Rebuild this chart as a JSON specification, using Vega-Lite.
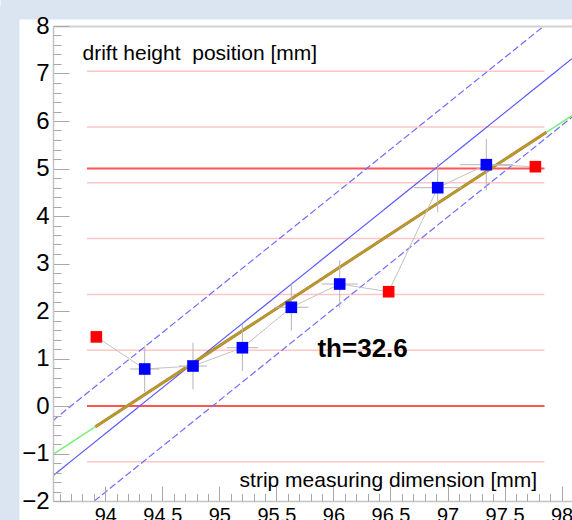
{
  "$schema": "https://vega.github.io/schema/vega-lite/v6.json",
  "width": 519,
  "height": 475,
  "autosize": {"type": "none"},
  "padding": {"left": 53, "top": 26, "right": 0, "bottom": 19},
  "background": "white",
  "config": {"view": {"stroke": null}, "font": "Liberation Sans", "axis": {"grid": false}},
  "datasets": {
    "hlines": [
      {"y": -1.175, "x": 93.84, "xend": 97.85, "kind": "strip"},
      {"y": 1.175, "x": 93.84, "xend": 97.85, "kind": "strip"},
      {"y": 2.35, "x": 93.84, "xend": 97.85, "kind": "strip"},
      {"y": 3.525, "x": 93.84, "xend": 97.85, "kind": "strip"},
      {"y": 4.7, "x": 93.84, "xend": 97.85, "kind": "strip"},
      {"y": 5.875, "x": 93.84, "xend": 97.85, "kind": "strip"},
      {"y": 7.05, "x": 93.84, "xend": 97.85, "kind": "strip"},
      {"y": 0, "x": 93.84, "xend": 97.85, "kind": "edge"},
      {"y": 5, "x": 93.84, "xend": 97.85, "kind": "edge"}
    ],
    "bands": [
      {"line": "solid", "x": 93.542, "y": -1.467},
      {"line": "solid", "x": 98.091, "y": 7.313},
      {"line": "up", "x": 93.542, "y": -0.305},
      {"line": "up", "x": 97.845, "y": 8},
      {"line": "lo", "x": 93.904, "y": -2},
      {"line": "lo", "x": 98.091, "y": 6.081}
    ],
    "green": [
      {"x": 93.542, "y": -1.019},
      {"x": 98.091, "y": 6.114}
    ],
    "fit": [
      {"x": 93.914, "y": -0.436},
      {"x": 97.866, "y": 5.761}
    ],
    "pts": [
      {"x": 93.922, "y": 1.455, "kind": "red"},
      {"x": 94.346, "y": 0.779, "kind": "blue", "xlo": 94.219, "xhi": 94.473, "ylo": 0.289, "yhi": 1.269},
      {"x": 94.769, "y": 0.842, "kind": "blue", "xlo": 94.646, "xhi": 94.892, "ylo": 0.352, "yhi": 1.332},
      {"x": 95.202, "y": 1.227, "kind": "blue", "xlo": 95.066, "xhi": 95.338, "ylo": 0.737, "yhi": 1.717},
      {"x": 95.631, "y": 2.078, "kind": "blue", "xlo": 95.481, "xhi": 95.781, "ylo": 1.588, "yhi": 2.568},
      {"x": 96.055, "y": 2.568, "kind": "blue", "xlo": 95.897, "xhi": 96.213, "ylo": 2.068, "yhi": 3.068},
      {"x": 96.484, "y": 2.406, "kind": "red"},
      {"x": 96.914, "y": 4.596, "kind": "blue", "xlo": 96.704, "xhi": 97.124, "ylo": 4.076, "yhi": 5.116},
      {"x": 97.34, "y": 5.08, "kind": "blue", "xlo": 97.11, "xhi": 97.57, "ylo": 4.54, "yhi": 5.62},
      {"x": 97.77, "y": 5.038, "kind": "red"}
    ],
    "notes": [
      {"x": 95.86, "y": 1.025, "label": "th=32.6"}
    ]
  },
  "resolve": {
    "axis": {"x": "independent", "y": "independent"},
    "scale": {"color": "independent", "strokeWidth": "independent", "strokeDash": "independent"}
  },
  "layer": [
    {
      "data": {"name": "hlines"},
      "mark": {"type": "rule"},
      "encoding": {
        "x": {"field": "x", "type": "quantitative", "scale": {"domain": [93.542, 98.091], "nice": false, "zero": false},
          "axis": {"orient": "bottom", "zindex": 1, "values": [94, 94.5, 95, 95.5, 96, 96.5, 97, 97.5, 98], "format": ".4~g",
            "tickSize": -15, "tickColor": "#a8a8a8", "tickWidth": 1, "domainColor": "#c4c4c4", "domainWidth": 1.5,
            "labelFont": "Liberation Sans", "labelFontSize": 20, "labelColor": "#000000", "labelPadding": 19, "labelFlush": false, "labelOverlap": false,
            "title": "strip measuring dimension [mm]", "titleFont": "Liberation Sans", "titleFontSize": 21, "titleFontWeight": "normal", "titleColor": "#000000",
            "titleAlign": "right", "titleAnchor": "start", "titleX": 483.7, "titleY": -15, "titleBaseline": "alphabetic", "titleLimit": 1000}},
        "x2": {"field": "xend"},
        "y": {"field": "y", "type": "quantitative", "scale": {"domain": [-2, 8], "nice": false, "zero": false},
          "axis": {"orient": "left", "zindex": 1, "values": [-2, -1, 0, 1, 2, 3, 4, 5, 6, 7, 8], "format": "d",
            "tickSize": -16, "tickColor": "#a8a8a8", "tickWidth": 1, "domainColor": "#c4c4c4", "domainWidth": 1.5,
            "labelFont": "Liberation Sans", "labelFontSize": 24, "labelColor": "#000000", "labelPadding": 20, "labelFlush": false, "labelOverlap": false,
            "title": "drift height\u00a0 position [mm]", "titleFont": "Liberation Sans", "titleFontSize": 21, "titleFontWeight": "normal", "titleColor": "#000000",
            "titleAngle": 0, "titleAlign": "left", "titleAnchor": "start", "titleBaseline": "alphabetic", "titleX": 29, "titleY": 33, "titleLimit": 1000}},
        "color": {"field": "kind", "type": "nominal", "scale": {"domain": ["edge", "strip"], "range": ["#ff5555", "#ffc6c6"]}, "legend": null},
        "strokeWidth": {"field": "kind", "type": "nominal", "scale": {"domain": ["edge", "strip"], "range": [2, 1.5]}, "legend": null}
      }
    },
    {
      "data": {"name": "bands"},
      "mark": {"type": "line", "clip": true},
      "encoding": {
        "x": {"field": "x", "type": "quantitative", "scale": {"domain": [93.542, 98.091], "nice": false, "zero": false},
          "axis": {"orient": "bottom", "zindex": 1, "values": [93.6, 93.7, 93.8, 93.9, 94.1, 94.2, 94.3, 94.4, 94.6, 94.7, 94.8, 94.9, 95.1, 95.2, 95.3, 95.4, 95.6, 95.7, 95.8, 95.9, 96.1, 96.2, 96.3, 96.4, 96.6, 96.7, 96.8, 96.9, 97.1, 97.2, 97.3, 97.4, 97.6, 97.7, 97.8, 97.9],
            "tickSize": -7.5, "tickColor": "#a8a8a8", "tickWidth": 1, "domain": false, "labels": false, "title": null}},
        "y": {"field": "y", "type": "quantitative", "scale": {"domain": [-2, 8], "nice": false, "zero": false},
          "axis": {"orient": "left", "zindex": 1, "values": [-1.8, -1.6, -1.4, -1.2, -0.8, -0.6, -0.4, -0.2, 0.2, 0.4, 0.6, 0.8, 1.2, 1.4, 1.6, 1.8, 2.2, 2.4, 2.6, 2.8, 3.2, 3.4, 3.6, 3.8, 4.2, 4.4, 4.6, 4.8, 5.2, 5.4, 5.6, 5.8, 6.2, 6.4, 6.6, 6.8, 7.2, 7.4, 7.6, 7.8],
            "tickSize": -8, "tickColor": "#a8a8a8", "tickWidth": 1, "domain": false, "labels": false, "title": null}},
        "detail": {"field": "line", "type": "nominal"},
        "color": {"field": "line", "type": "nominal", "scale": {"domain": ["solid", "up", "lo"], "range": ["#5a5aff", "#6e6eff", "#6e6eff"]}, "legend": null},
        "strokeDash": {"field": "line", "type": "nominal", "scale": {"domain": ["solid", "up", "lo"], "range": [[1, 0], [7, 3], [7, 3]]}, "legend": null},
        "strokeWidth": {"value": 1.2}
      }
    },
    {
      "data": {"name": "green"},
      "mark": {"type": "line", "clip": true, "color": "#77ee77", "strokeWidth": 1.5},
      "encoding": {
        "x": {"field": "x", "type": "quantitative", "scale": {"domain": [93.542, 98.091], "nice": false, "zero": false},
          "axis": {"orient": "top", "zindex": 1, "domainColor": "#d2d2d2", "domainWidth": 2, "ticks": false, "labels": false, "title": null}},
        "y": {"field": "y", "type": "quantitative", "scale": {"domain": [-2, 8], "nice": false, "zero": false},
          "axis": {"orient": "left", "zindex": 0, "offset": 54, "domainColor": "#dbe5f1", "domainWidth": 40, "domainCap": "square", "ticks": false, "labels": false, "title": null}}
      }
    },
    {
      "data": {"name": "fit"},
      "mark": {"type": "line", "clip": true, "color": "#d8644a", "strokeWidth": 3},
      "encoding": {
        "x": {"field": "x", "type": "quantitative", "scale": {"domain": [93.542, 98.091], "nice": false, "zero": false},
          "axis": {"orient": "top", "zindex": 0, "offset": 60, "domainColor": "#dbe5f1", "domainWidth": 106, "domainCap": "square", "ticks": false, "labels": false, "title": null}},
        "y": {"field": "y", "type": "quantitative", "scale": {"domain": [-2, 8], "nice": false, "zero": false}, "axis": null}
      }
    },
    {
      "data": {"name": "fit"},
      "mark": {"type": "line", "clip": true, "color": "#aaa226", "strokeWidth": 2.2},
      "encoding": {
        "x": {"field": "x", "type": "quantitative", "scale": {"domain": [93.542, 98.091], "nice": false, "zero": false}, "axis": null},
        "y": {"field": "y", "type": "quantitative", "scale": {"domain": [-2, 8], "nice": false, "zero": false}, "axis": null}
      }
    },
    {
      "data": {"name": "pts"},
      "transform": [{"filter": "datum.kind == 'blue'"}],
      "mark": {"type": "rule", "color": "#b4b4b4", "strokeWidth": 1},
      "encoding": {
        "x": {"field": "xlo", "type": "quantitative", "scale": {"domain": [93.542, 98.091], "nice": false, "zero": false}, "axis": null},
        "x2": {"field": "xhi"},
        "y": {"field": "y", "type": "quantitative", "scale": {"domain": [-2, 8], "nice": false, "zero": false}, "axis": null}
      }
    },
    {
      "data": {"name": "pts"},
      "transform": [{"filter": "datum.kind == 'blue'"}],
      "mark": {"type": "rule", "color": "#b4b4b4", "strokeWidth": 1},
      "encoding": {
        "x": {"field": "x", "type": "quantitative", "scale": {"domain": [93.542, 98.091], "nice": false, "zero": false}, "axis": null},
        "y": {"field": "ylo", "type": "quantitative", "scale": {"domain": [-2, 8], "nice": false, "zero": false}, "axis": null},
        "y2": {"field": "yhi"}
      }
    },
    {
      "data": {"name": "pts"},
      "mark": {"type": "line", "color": "#c2c2c2", "strokeWidth": 1},
      "encoding": {
        "x": {"field": "x", "type": "quantitative", "scale": {"domain": [93.542, 98.091], "nice": false, "zero": false}, "axis": null},
        "y": {"field": "y", "type": "quantitative", "scale": {"domain": [-2, 8], "nice": false, "zero": false}, "axis": null}
      }
    },
    {
      "data": {"name": "pts"},
      "mark": {"type": "point", "shape": "square", "filled": true, "opacity": 1, "size": 135, "strokeWidth": 0},
      "encoding": {
        "x": {"field": "x", "type": "quantitative", "scale": {"domain": [93.542, 98.091], "nice": false, "zero": false}, "axis": null},
        "y": {"field": "y", "type": "quantitative", "scale": {"domain": [-2, 8], "nice": false, "zero": false}, "axis": null},
        "color": {"field": "kind", "type": "nominal", "scale": {"domain": ["blue", "red"], "range": ["#0000ff", "#ff0000"]}, "legend": null}
      }
    },
    {
      "data": {"name": "notes"},
      "mark": {"type": "text", "font": "Liberation Sans", "fontSize": 26, "fontWeight": "bold", "align": "left", "baseline": "alphabetic", "color": "#000000"},
      "encoding": {
        "x": {"field": "x", "type": "quantitative", "scale": {"domain": [93.542, 98.091], "nice": false, "zero": false}, "axis": null},
        "y": {"field": "y", "type": "quantitative", "scale": {"domain": [-2, 8], "nice": false, "zero": false}, "axis": null},
        "text": {"field": "label"}
      }
    }
  ]
}
